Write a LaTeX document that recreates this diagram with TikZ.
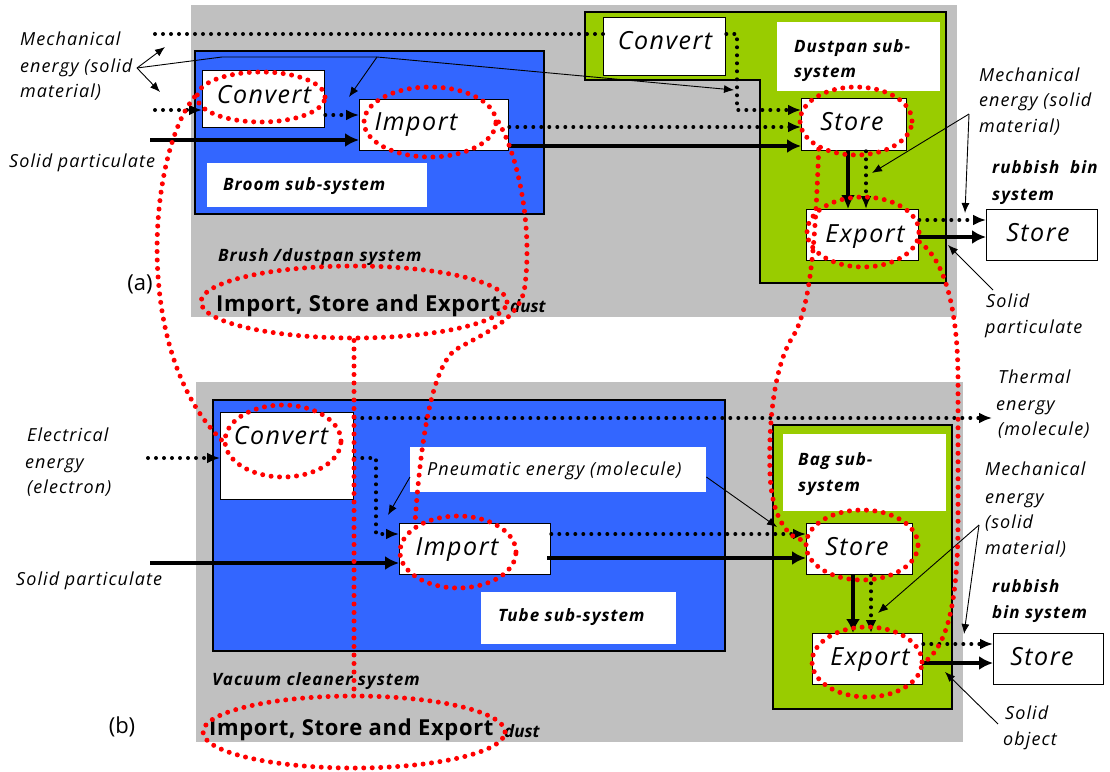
\documentclass[tikz,border=0pt]{standalone}
\usepackage{fontspec}
\setmainfont{Open Sans}
\usetikzlibrary{arrows.meta,shapes.geometric}
\definecolor{grayb}{RGB}{192,192,192}
\definecolor{blueb}{RGB}{51,102,255}
\definecolor{greenb}{RGB}{153,204,0}
\begin{document}
\begin{tikzpicture}[x=1pt,y=-1pt,
  box/.style={draw=black, fill=white, line width=1.3pt, inner sep=0pt, anchor=north west},
  wbox/.style={fill=white, inner sep=0pt, anchor=north west},
  btxt/.style={font=\fontsize{25}{25}\selectfont\itshape\addfontfeatures{LetterSpace=6}, inner sep=0pt, anchor=mid, yshift=-5pt},
  lab/.style={font=\fontsize{18}{18}\selectfont\itshape\addfontfeatures{LetterSpace=6}, inner sep=0pt, anchor=mid west, yshift=-3pt},
  blab/.style={font=\fontsize{17}{17}\selectfont\bfseries\itshape\addfontfeatures{LetterSpace=6}, inner sep=0pt, anchor=mid west, yshift=-3pt},
  big/.style={font=\fontsize{22}{22}\selectfont\bfseries\addfontfeatures{LetterSpace=3}, inner sep=0pt, anchor=mid west, yshift=-4pt},
  small/.style={font=\fontsize{17}{17}\selectfont\bfseries\itshape, inner sep=0pt, anchor=mid west, yshift=-4pt},
  plab/.style={font=\fontsize{22}{22}\selectfont, inner sep=0pt, anchor=mid, yshift=-3pt},
  dotl/.style={line width=4pt, dash pattern=on 0pt off 8pt, line cap=round, -{Latex[length=13pt,width=11pt]}},
  dotn/.style={line width=4pt, dash pattern=on 0pt off 8pt, line cap=round},
  thk/.style={line width=4pt, -{Latex[length=14pt,width=14pt]}},
  thn/.style={line width=0.9pt, -{Latex[length=10pt,width=8pt]}},
  rdot/.style={draw=red, line width=5pt, dash pattern=on 0pt off 8.5pt, line cap=round},
  rell/.style={ellipse, rdot, inner sep=0pt}]
\useasboundingbox (0,0) rectangle (1110,771);

% ---------------- panel (a) ----------------
\fill[grayb] (191,5) rectangle (957,317);
\draw[fill=blueb, line width=1.2pt] (195,51) rectangle (544,214);
\draw[fill=greenb, line width=1.2pt] (585,12) -- (946,12) -- (946,283) -- (760,283) -- (760,80) -- (585,80) -- cycle;

\node[box, minimum width=122pt, minimum height=57pt] (aconv) at (202,70) {};
\node[box, minimum width=149pt, minimum height=51pt] (aimp) at (359,99) {};
\node[wbox, minimum width=220pt, minimum height=44pt] (abroom) at (207,163) {};
\node[box, minimum width=122pt, minimum height=58pt] (aconvb) at (603,17) {};
\node[wbox, minimum width=163pt, minimum height=69pt] (adust) at (777,22) {};
\node[box, minimum width=105pt, minimum height=52pt] (astore) at (801,98) {};
\node[box, minimum width=112pt, minimum height=51pt] (aexp) at (806,209) {};
\node[box, minimum width=111pt, minimum height=51pt] (abin) at (986,209) {};

\node[btxt] (taconv) at (264,96) {Convert};
\node[btxt] (taimp) at (416,123) {Import};
\node[btxt] (taconvb) at (665,42) {Convert};
\node[btxt] (tastore) at (852,123) {Store};
\node[btxt] (taexp) at (865,235) {Export};
\node[btxt] (tabin) at (1038,234) {Store};

\node[blab] (tbroom) at (223,185) {Broom sub-system};
\node[blab] (tdust1) at (794,47) {Dustpan sub-};
\node[blab] (tdust2) at (794,72) {system};
\node[blab] (tbrush) at (218,256) {Brush /dustpan system};
\node[plab] (ta) at (140,285) {(a)};
\node[big] (tiseA) at (216,305) {Import, Store and Export};
\node[small] (tdustA) at (510,306) {dust};

\node[lab] (m1) at (20,40) {Mechanical};
\node[lab] (m2) at (20,67) {energy (solid};
\node[lab] (m3) at (20,92) {material)};
\node[lab] (sp1) at (9,162) {Solid particulate};
\node[lab] (mr1) at (979,76) {Mechanical};
\node[lab] (mr2) at (979,101) {energy (solid};
\node[lab] (mr3) at (979,127) {material)};
\node[blab] (rb1) at (992,168) {rubbish\ \ bin};
\node[blab] (rb2) at (992,195) {system};
\node[lab] (sr1) at (986,302) {Solid};
\node[lab] (sr2) at (985,328) {particulate};

% connectors (a)
\coordinate (inA) at (155,34);
\coordinate (inB) at (155,110);
\coordinate (inC) at (150,140);
\draw[dotn] (inA) -- (inA -| aconvb.west);
\draw[dotl] (aconvb.east |- inA) -- (737,34) -- (737,110) -- (astore.west |- 0,110);
\draw[dotl] (inB) -- (inB -| aconv.west);
\draw[dotl] (aconv.east |- 0,115) -- (aimp.west |- 0,115);
\draw[thk] (inC) -- (inC -| aimp.west);
\draw[dotl] (aimp.east |- 0,127) -- (astore.west |- 0,127);
\draw[thk] (aimp.east |- 0,146) -- (astore.west |- 0,146);
\draw[thk] (astore.south -| 848,0) -- (aexp.north -| 848,0);
\draw[dotl] (astore.south -| 866,0) -- (aexp.north -| 866,0);
\draw[dotl] (aexp.east |- 0,220) -- (abin.west |- 0,220);
\draw[thk] (aexp.east |- 0,237) -- (abin.west |- 0,237);

% pointers (a)
\coordinate (mlA) at (137,68);
\coordinate (mlU) at (165,47);
\coordinate (mlD) at (160,92);
\coordinate (mlK) at (222,57);
\coordinate (mlB) at (377,57);
\coordinate (mlE) at (734,90);
\coordinate (mlI) at (349,97);
\draw[thn] (mlA) -- (mlU);
\draw[thn] (mlA) -- (mlD);
\draw[thn] (mlA) -- (mlK) -- (mlB) -- (mlE);
\draw[thn] (mlB) -- (mlI);
\coordinate (mrA) at (969,114);
\coordinate (mrS) at (872,173);
\coordinate (mrB) at (965,213);
\draw[thn] (mrA) -- (mrS);
\draw[thn] (mrA) -- (mrB);
\coordinate (spA) at (993,290);
\coordinate (spB) at (948,245);
\draw[thn] (spA) -- (spB);

% ---------------- panel (b) ----------------
\fill[grayb] (196,382) rectangle (963,742);
\draw[fill=blueb, line width=1.2pt] (213,400) rectangle (725,651);
\draw[fill=greenb, line width=1.2pt] (773,425) rectangle (952,709);

\node[box, minimum width=133pt, minimum height=87pt] (bconv) at (220,412) {};
\node[box, minimum width=151pt, minimum height=51pt] (bimp) at (399,523) {};
\node[wbox, minimum width=296pt, minimum height=45pt] (bpneu) at (410,447) {};
\node[wbox, minimum width=195pt, minimum height=52pt] (btube) at (481,592) {};
\node[wbox, minimum width=163pt, minimum height=77pt] (bbag) at (783,434) {};
\node[box, minimum width=106pt, minimum height=51pt] (bstore) at (806,523) {};
\node[box, minimum width=110pt, minimum height=51pt] (bexp) at (812,633) {};
\node[box, minimum width=110pt, minimum height=51pt] (bbin) at (993,633) {};

\node[btxt] (tbconv) at (281,437) {Convert};
\node[btxt] (tbimp) at (457,548) {Import};
\node[btxt] (tbstore) at (857,548) {Store};
\node[btxt] (tbexp) at (870,658) {Export};
\node[btxt] (tbbin) at (1042,658) {Store};

\node[lab] (tpneu) at (427,470) {Pneumatic energy (molecule)};
\node[blab] (ttube) at (498,616) {Tube sub-system};
\node[blab] (tbag1) at (798,460) {Bag sub-};
\node[blab] (tbag2) at (798,486) {system};
\node[blab] (tvac) at (212,680) {Vacuum cleaner system};
\node[plab] (tb) at (122,728) {(b)};
\node[big] (tiseB) at (209,729) {Import, Store and Export};
\node[small] (tdustB) at (504,731) {dust};

\node[lab] (e1) at (27,436) {Electrical};
\node[lab] (e2) at (25,463) {energy};
\node[lab] (e3) at (27,488) {(electron)};
\node[lab] (sp2) at (16,580) {Solid particulate};
\node[lab] (th1) at (998,378) {Thermal};
\node[lab] (th2) at (996,405) {energy};
\node[lab] (th3) at (998,430) {(molecule)};
\node[lab] (mb1) at (985,470) {Mechanical};
\node[lab] (mb2) at (985,498) {energy};
\node[lab] (mb3) at (985,523) {(solid};
\node[lab] (mb4) at (985,549) {material)};
\node[blab] (rbb1) at (992,587) {rubbish};
\node[blab] (rbb2) at (992,613) {bin system};
\node[lab] (so1) at (1005,714) {Solid};
\node[lab] (so2) at (1003,740) {object};

% connectors (b)
\coordinate (inE) at (148,458);
\coordinate (inS) at (150,563);
\coordinate (thE) at (992,418);
\draw[dotl] (inE) -- (inE -| bconv.west);
\draw[dotl] (bconv.east |- thE) -- (thE);
\draw[dotl] (bconv.east |- 0,458) -- (376,458) -- (376,534) -- (bimp.west |- 0,534);
\draw[thk] (inS) -- (inS -| bimp.west);
\draw[dotl] (bimp.east |- 0,534) -- (bstore.west |- 0,534);
\draw[thk] ([xshift=-4pt]bimp.east |- 0,558) -- (bstore.west |- 0,558);
\draw[thk] (bstore.south -| 853,0) -- (bexp.north -| 853,0);
\draw[dotl] (bstore.south -| 871,0) -- (bexp.north -| 871,0);
\draw[dotl] (bexp.east |- 0,644) -- (bbin.west |- 0,644);
\draw[thk] (bexp.east |- 0,663) -- (bbin.west |- 0,663);

% pointers (b)
\coordinate (pnL) at (388,515);
\coordinate (pnR) at (777,527);
\draw[thn] (bpneu.west |- 0,477) -- (pnL);
\draw[thn] (bpneu.east |- 0,477) -- (pnR);
\coordinate (mbA) at (979,525);
\coordinate (mbS) at (878,613);
\coordinate (mbB) at (964,634);
\draw[thn] (mbA) -- (mbS);
\draw[thn] (mbA) -- (mbB);
\coordinate (soA) at (998,724);
\coordinate (soB) at (945,672);
\draw[thn] (soA) -- (soB);

% ---------------- red overlays ----------------
\node[rell, minimum width=128pt, minimum height=50pt] (r1) at (261,97) {};
\node[rell, minimum width=132pt, minimum height=70pt] (r2) at (430,122) {};
\node[rell, minimum width=112pt, minimum height=68pt] (r3) at (856,121) {};
\node[rell, minimum width=112pt, minimum height=70pt] (r4) at (863,232) {};
\node[rell, minimum width=306pt, minimum height=72pt] (r5) at (354,302) {};
\node[rell, minimum width=116pt, minimum height=72pt] (r6) at (283,441) {};
\node[rell, minimum width=116pt, minimum height=72pt] (r7) at (458,552) {};
\node[rell, minimum width=112pt, minimum height=70pt] (r8) at (862,545) {};
\node[rell, minimum width=110pt, minimum height=70pt] (r9) at (867,662) {};
\node[rell, minimum width=302pt, minimum height=72pt] (r10) at (354,732) {};

\draw[rdot] (r1.180) .. controls (150,150) and (130,350) .. (r6.180);
\draw[rdot] (r2.east) .. controls (520,160) and (532,230) .. (525,285)
  .. controls (522,320) and (480,335) .. (455,350)
  .. controls (430,370) and (420,450) .. (r7.148);
\draw[rdot] (r5.south) -- (r10.north);
\draw[rdot] (r3.217) .. controls (815,250) and (810,310) .. (792,338)
  .. controls (775,365) and (768,420) .. (770,475)
  .. controls (772,520) and (790,540) .. (r8.175);
\draw[rdot] (r4.350) .. controls (945,260) and (958,310) .. (958,380)
  -- (958,520) .. controls (958,600) and (948,645) .. (r9.0);
\end{tikzpicture}
\end{document}
